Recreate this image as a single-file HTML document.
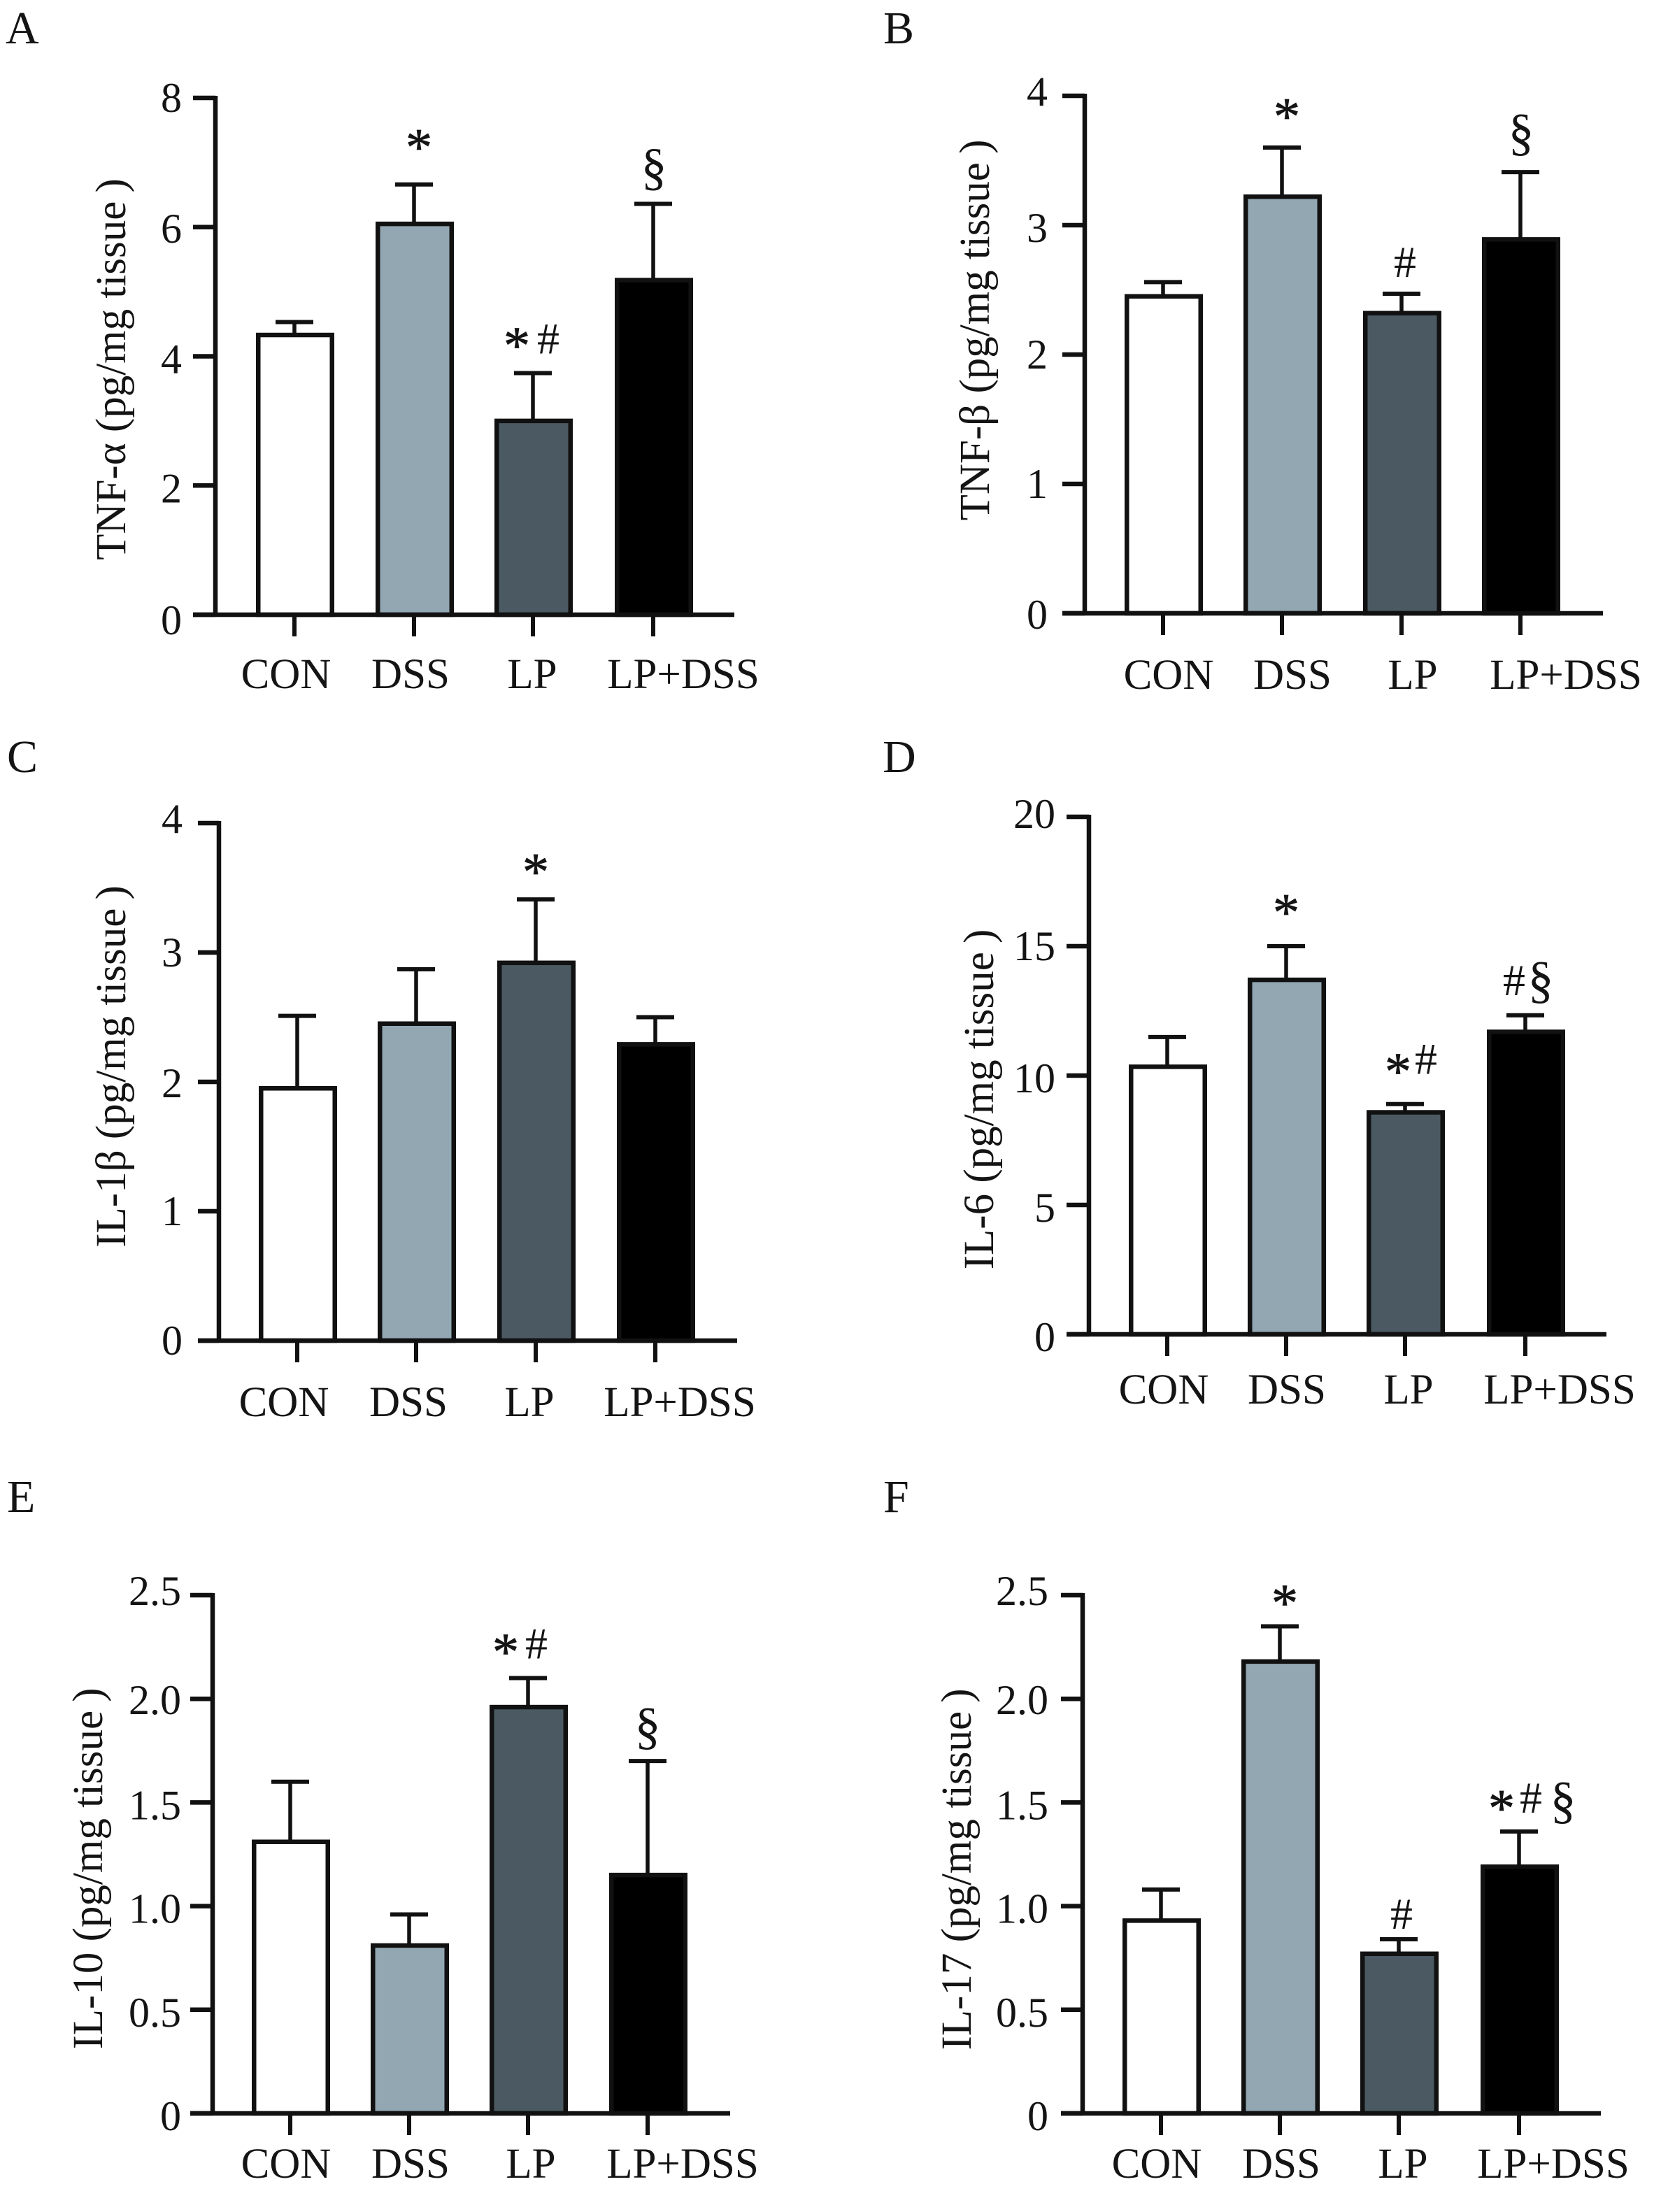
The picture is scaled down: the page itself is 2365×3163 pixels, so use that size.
<!DOCTYPE html>
<html lang="en">
<head>
<meta charset="utf-8">
<title>Cytokine levels by treatment group</title>
<style>
html,body{margin:0;padding:0;background:#fff;}
svg{display:block;}
text{font-family:"Liberation Serif","DejaVu Serif",serif;fill:#141414;}
</style>
</head>
<body>
<svg id="figure" xmlns="http://www.w3.org/2000/svg" width="2365" height="3163" viewBox="0 0 2365 3163"></svg>
<script>
// ---- data ----
const categories = ['CON', 'DSS', 'LP', 'LP+DSS'];

const tnfAlphaMeans = [4.33, 6.05, 3.00, 5.18];
const tnfAlphaErrorTops = [4.53, 6.66, 3.74, 6.36];
const tnfAlphaTicks = ['0', '2', '4', '6', '8'];

const tnfBetaMeans = [2.45, 3.22, 2.32, 2.89];
const tnfBetaErrorTops = [2.56, 3.60, 2.47, 3.41];
const tnfBetaTicks = ['0', '1', '2', '3', '4'];

const il1BetaMeans = [1.95, 2.45, 2.92, 2.29];
const il1BetaErrorTops = [2.51, 2.87, 3.41, 2.50];
const il1BetaTicks = ['0', '1', '2', '3', '4'];

const il6Means = [10.34, 13.7, 8.58, 11.69];
const il6ErrorTops = [11.49, 15.0, 8.90, 12.33];
const il6Ticks = ['0', '5', '10', '15', '20'];

const il10Means = [1.31, 0.81, 1.96, 1.15];
const il10ErrorTops = [1.60, 0.96, 2.10, 1.70];
const il10Ticks = ['0', '0.5', '1.0', '1.5', '2.0', '2.5'];

const il17Means = [0.93, 2.18, 0.77, 1.19];
const il17ErrorTops = [1.08, 2.35, 0.84, 1.36];
const il17Ticks = ['0', '0.5', '1.0', '1.5', '2.0', '2.5'];

const barColors = ['#ffffff', '#92a7b2', '#4b5a62', '#000000'];

// ---- panel layout (pixels) ----
const panels = [
  { letter:'A', lx:8, ly:62, title:'TNF-α (pg/mg tissue\u2009)', means:tnfAlphaMeans, tops:tnfAlphaErrorTops, ticks:tnfAlphaTicks,
    axisX:308, tickLeft:276, axisRight:1050, yTop:140, y0:879, centers:[422,593,763,935], tickRight:260, tickDy:[28,24,24,22,20],
    labelX:[409,587,761,977], labelY:984, titleX:179, titleY:528,
    marks:[['*',1,7,30],['*',2,-23,16],['#',2,22,28],['§',3,1,28]] },
  { letter:'B', lx:1263, ly:62, title:'TNF-β (pg/mg tissue\u2009)', means:tnfBetaMeans, tops:tnfBetaErrorTops, ticks:tnfBetaTicks,
    axisX:1551, tickLeft:1519, axisRight:2292, yTop:137, y0:877, centers:[1664,1834,2005,2175], tickRight:1498, tickDy:[22,20,20,24,14],
    labelX:[1671,1848,2020,2239], labelY:985, titleX:1414, titleY:472,
    marks:[['*',1,7,21],['#',2,5,24],['§',3,1,32]] },
  { letter:'C', lx:10, ly:1104, title:'IL-1β (pg/mg tissue\u2009)', means:il1BetaMeans, tops:il1BetaErrorTops, ticks:il1BetaTicks,
    axisX:313, tickLeft:283, axisRight:1054, yTop:1177, y0:1917, centers:[426,596,767,938], tickRight:261, tickDy:[20,20,22,20,14],
    labelX:[406,584,757,972], labelY:2025, titleX:179, titleY:1525,
    marks:[['*',2,0,16]] },
  { letter:'D', lx:1262, ly:1104, title:'IL-6 (pg/mg tissue\u2009)', means:il6Means, tops:il6ErrorTops, ticks:il6Ticks,
    axisX:1557, tickLeft:1525, axisRight:2297, yTop:1168, y0:1908, centers:[1670,1840,2010,2182], tickRight:1509, tickDy:[24,24,24,20,16],
    labelX:[1664,1840,2014,2230], labelY:2007, titleX:1420, titleY:1572,
    marks:[['*',1,0,25],['*',2,-10,23],['#',2,30,43],['#',3,-16,29],['§',3,22,26]] },
  { letter:'E', lx:10, ly:2162, title:'IL-10 (pg/mg tissue\u2009)', means:il10Means, tops:il10ErrorTops, ticks:il10Ticks,
    axisX:304, tickLeft:272, axisRight:1044, yTop:2281, y0:3022, centers:[416,586,756,927], tickRight:259, tickDy:[24,24,24,24,22,14],
    labelX:[409,587,759,976], labelY:3114, titleX:146, titleY:2672,
    marks:[['*',2,-32,14],['#',2,12,28],['§',3,0,25]] },
  { letter:'F', lx:1263, ly:2162, title:'IL-17 (pg/mg tissue\u2009)', means:il17Means, tops:il17ErrorTops, ticks:il17Ticks,
    axisX:1548, tickLeft:1517, axisRight:2289, yTop:2281, y0:3022, centers:[1661,1831,2001,2173], tickRight:1499, tickDy:[24,24,24,24,22,14],
    labelX:[1654,1832,2006,2221], labelY:3114, titleX:1388, titleY:2673,
    marks:[['*',1,7,10],['#',2,4,15],['*',3,-25,10],['#',3,17,27],['§',3,63,20]] }
];

// ---- drawing ----
const svg = document.getElementById('figure');
const NS = 'http://www.w3.org/2000/svg';
const INK = '#111111';
const FONT_SIZE = 60;
const LABEL_SIZE = 61;
const BAR_OUTER = 112;
const BAR_STROKE = 6.5;

function make(parent, tag, attrs, content) {
  const el = document.createElementNS(NS, tag);
  for (const k in attrs) el.setAttribute(k, attrs[k]);
  if (content !== undefined) el.textContent = content;
  parent.appendChild(el);
  return el;
}

panels.forEach(function (p) {
  const key = p.letter.toLowerCase();
  const g = make(svg, 'g', {});
  
  

  const maxVal = parseFloat(p.ticks[p.ticks.length - 1]);
  const yScale = function (v) { return p.y0 - (v / maxVal) * (p.y0 - p.yTop); };

  const letter = make(g, 'text', { x: p.lx, y: p.ly, 'font-size': 66 }, p.letter);
  
  

  // error bars are drawn first so the bar outline sits over their base
  p.means.forEach(function (m, i) {
    const cx = p.centers[i] - 1;
    const top = yScale(p.tops[i]);
    const stem = make(g, 'line', { x1: cx, x2: cx, y1: yScale(m), y2: top, stroke: INK, 'stroke-width': 5.5 });
    
    
    const cap = make(g, 'line', { x1: cx - 27, x2: cx + 27, y1: top, y2: top, stroke: INK, 'stroke-width': 6 });
    
    
  });

  p.means.forEach(function (m, i) {
    const topY = yScale(m);
    const bar = make(g, 'rect', {
      x: p.centers[i] - BAR_OUTER / 2 + BAR_STROKE / 2,
      y: topY,
      width: BAR_OUTER - BAR_STROKE,
      height: Math.max(0, p.y0 - topY),
      fill: barColors[i],
      stroke: INK,
      'stroke-width': BAR_STROKE
    });
    
    
  });

  const yAxis = make(g, 'line', { x1: p.axisX, x2: p.axisX, y1: p.yTop - 3, y2: p.y0 + 3, stroke: INK, 'stroke-width': 6.5 });
  
  

  const xAxis = make(g, 'line', { x1: p.tickLeft, x2: p.axisRight, y1: p.y0, y2: p.y0, stroke: INK, 'stroke-width': 6.5 });
  
  

  p.ticks.forEach(function (t, i) {
    const y = yScale(parseFloat(t));
    const tick = make(g, 'line', { x1: p.tickLeft, x2: p.axisX, y1: y, y2: y, stroke: INK, 'stroke-width': 6.5 });
    
    
    const label = make(g, 'text', { x: p.tickRight, y: y + p.tickDy[i], 'font-size': FONT_SIZE, 'text-anchor': 'end' }, t);
    
    
  });

  categories.forEach(function (c, i) {
    const cx = p.centers[i] - 1;
    const tick = make(g, 'line', { x1: cx, x2: cx, y1: p.y0, y2: p.y0 + 31, stroke: INK, 'stroke-width': 6 });
    
    
    const label = make(g, 'text', { x: p.labelX[i], y: p.labelY, 'font-size': LABEL_SIZE, 'text-anchor': 'middle' }, c);
    
    
  });

  const title = make(g, 'text', {
    x: 0, y: 0, 'font-size': LABEL_SIZE, 'text-anchor': 'middle',
    transform: 'translate(' + p.titleX + ' ' + p.titleY + ') rotate(-90)'
  }, p.title);
  
  

  p.marks.forEach(function (mk, n) {
    const isStar = mk[0] === '*';
    const size = isStar ? 76 : (mk[0] === '#' ? 64 : 74);
    const attrs = {
      x: p.centers[mk[1]] + mk[2] - 1,
      y: yScale(p.tops[mk[1]]) - mk[3] + (isStar ? 2 : 0),
      'font-size': size,
      'text-anchor': 'middle'
    };
    if (isStar) {
      attrs.stroke = '#141414';
      attrs['stroke-width'] = 0.8;
    }
    const mark = make(g, 'text', attrs, mk[0]);
    
    
  });
});
</script>
</body>
</html>
